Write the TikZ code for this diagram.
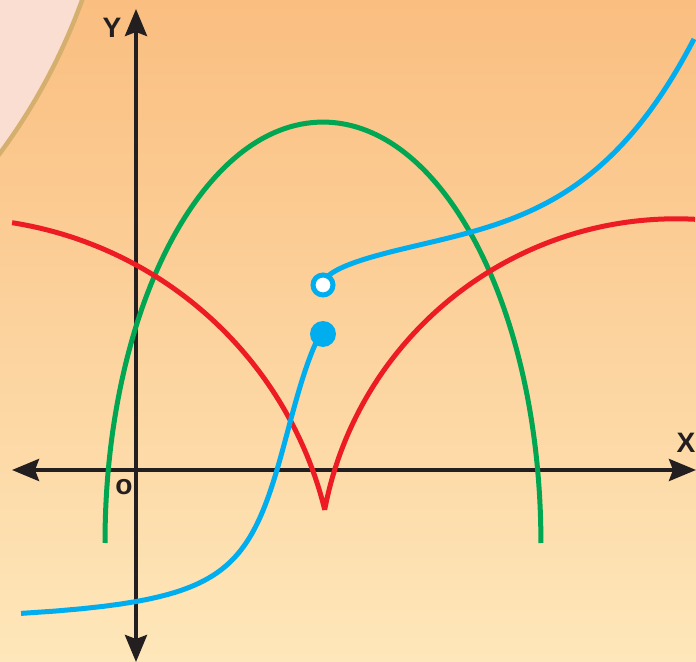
\documentclass[tikz,border=0pt]{standalone}
\usepackage{fontspec}
\setmainfont{Liberation Sans}
\usetikzlibrary{arrows.meta}

\definecolor{bgtop}{RGB}{250,190,128}
\definecolor{bgbot}{RGB}{254,231,186}
\definecolor{pinkfill}{RGB}{250,222,210}
\definecolor{tanline}{RGB}{213,175,110}
\definecolor{axisblack}{RGB}{35,31,32}
\definecolor{curvered}{RGB}{237,28,36}
\definecolor{curvegreen}{RGB}{0,166,81}
\definecolor{curveblue}{RGB}{0,174,239}

\begin{document}
\begin{tikzpicture}[
  x=0.02cm, y=0.02cm,
  axis/.style={draw=axisblack, line width=0.08cm, {Stealth[length=5.4mm, width=4.4mm, inset=0.8mm]}-{Stealth[length=5.4mm, width=4.4mm, inset=0.8mm]}},
  curve/.style={line width=0.1cm},
  lbl/.style={text=axisblack, font=\fontsize{16}{16}\selectfont\bfseries, inner sep=0pt}
]
\useasboundingbox (-136,-192) rectangle (560,470);
% background
\shade[top color=bgtop, bottom color=bgbot] (-136,-192) rectangle (560,470);
\begin{scope}
  \clip (-136,-192) rectangle (560,470);
  \draw[fill=pinkfill, draw=tanline, line width=0.09cm] (-621,675) circle[radius=12.06cm];
\end{scope}

% axes
\coordinate (O) at (0,0);
\coordinate (xleft) at (-124,0);
\coordinate (xright) at (560,0);
\coordinate (ybottom) at (0,-192);
\coordinate (ytop) at (0,461);
\draw[axis] (xleft) -- (xright);
\draw[axis] (ybottom) -- (ytop);

\node[lbl] (ylabel) at (-24,442) {Y};
\node[lbl] (xlabel) at (550,27) {X};
\node[lbl] (olabel) at (-12,-17) {o};

% green arch
\draw[curve, curvegreen] (-31,-73) arc[start angle=180, end angle=0, x radius=4.36cm, y radius=8.42cm];

% red curve: two circle arcs meeting in a cusp
\draw[curve, curvered, line join=bevel] (-123.9,247.3)
  arc[start angle=81, end angle=13.9, radius=7.68cm]
  arc[start angle=169.2, end angle=87, radius=7.16cm];

% blue curve, two pieces
\coordinate (closed) at (187,136);
\coordinate (open) at (187,185);
\draw[curve, curveblue] plot[domain=-183.4:96, samples=120, variable=\w]
  ({152+34*tan(deg(\w/127))}, {40+\w});
\draw[curve, curveblue] plot[domain=0:371, samples=120, variable=\u]
  ({187+\u}, {185+4*sqrt(\u)+0.892*(\u/100)^4});
\fill[curveblue] (closed) circle[radius=0.26cm];
\draw[curveblue, fill=white, line width=0.1cm] (open) circle[radius=0.2cm];
\end{tikzpicture}
\end{document}
